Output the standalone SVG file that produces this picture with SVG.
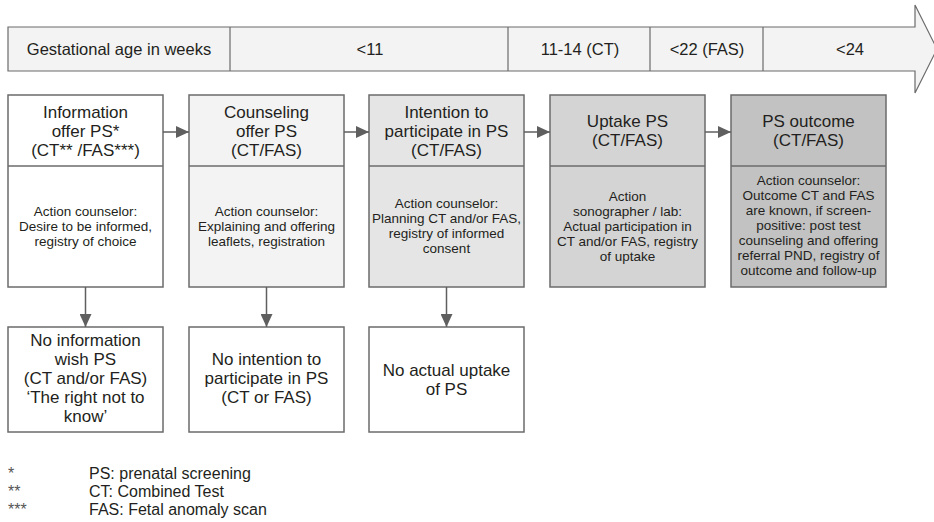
<svg xmlns="http://www.w3.org/2000/svg" width="934" height="522" viewBox="0 0 934 522">
<style>
text{font-family:"Liberation Sans",Arial,sans-serif;fill:#231f20;text-anchor:middle}
.band{font-size:16.5px}
.hd{font-size:17px}
.bd{font-size:13.5px}
.bt{font-size:17px}
.fn{font-size:16px;text-anchor:start}
.ast{fill:#555555}
.box{stroke:#6b6b6b;stroke-width:1.5}
.conn{stroke:#5f5f5f;stroke-width:1.5;fill:none}
</style>
<defs>
<marker id="ah" markerUnits="userSpaceOnUse" markerWidth="13" markerHeight="12" refX="13" refY="6" orient="auto">
<path d="M0,0 L13,6 L0,12 z" fill="#5f5f5f"/>
</marker>
</defs>
<g id="timeline">
<polygon points="8,27 915,27 915,5 937,49 915,93 915,71 8,71" fill="#f3f3f3" stroke="#6b6b6b" stroke-width="1.2"/>
<g stroke="#6b6b6b" stroke-width="1.2">
<line x1="230" y1="27" x2="230" y2="71"/>
<line x1="508" y1="27" x2="508" y2="71"/>
<line x1="650" y1="27" x2="650" y2="71"/>
<line x1="763" y1="27" x2="763" y2="71"/>
</g>
<text class="band" x="119" y="55">Gestational age in weeks</text>
<text class="band" x="370" y="55">&lt;11</text>
<text class="band" x="580" y="55">11-14 (CT)</text>
<text class="band" x="707" y="55">&lt;22 (FAS)</text>
<text class="band" x="850" y="55">&lt;24</text>
</g>
<g id="n1">
<rect class="box" x="8" y="95" width="155" height="192" fill="#ffffff"/>
<line class="box" x1="8" y1="166" x2="163" y2="166"/>
<text class="hd" x="85.5" y="118">Information</text>
<text class="hd" x="85.5" y="137">offer PS*</text>
<text class="hd" x="85.5" y="156">(CT** /FAS***)</text>
<text class="bd" x="85.5" y="216">Action counselor:</text>
<text class="bd" x="85.5" y="231">Desire to be informed,</text>
<text class="bd" x="85.5" y="246">registry of choice</text>
</g>
<g id="n2">
<rect class="box" x="189" y="95" width="155" height="192" fill="#f3f3f3"/>
<line class="box" x1="189" y1="166" x2="344" y2="166"/>
<text class="hd" x="266.5" y="118">Counseling</text>
<text class="hd" x="266.5" y="137">offer PS</text>
<text class="hd" x="266.5" y="156">(CT/FAS)</text>
<text class="bd" x="266.5" y="216">Action counselor:</text>
<text class="bd" x="266.5" y="231">Explaining and offering</text>
<text class="bd" x="266.5" y="246">leaflets, registration</text>
</g>
<g id="n3">
<rect class="box" x="369" y="95" width="155" height="192" fill="#e5e5e5"/>
<line class="box" x1="369" y1="166" x2="524" y2="166"/>
<text class="hd" x="446.5" y="118">Intention to</text>
<text class="hd" x="446.5" y="137">participate in PS</text>
<text class="hd" x="446.5" y="156">(CT/FAS)</text>
<text class="bd" x="446.5" y="208">Action counselor:</text>
<text class="bd" x="446.5" y="223">Planning CT and/or FAS,</text>
<text class="bd" x="446.5" y="238">registry of informed</text>
<text class="bd" x="446.5" y="253">consent</text>
</g>
<g id="n4">
<rect class="box" x="550" y="95" width="155" height="192" fill="#d4d4d4"/>
<line class="box" x1="550" y1="166" x2="705" y2="166"/>
<text class="hd" x="627.5" y="126.5">Uptake PS</text>
<text class="hd" x="627.5" y="145.5">(CT/FAS)</text>
<text class="bd" x="627.5" y="201">Action</text>
<text class="bd" x="627.5" y="216">sonographer / lab:</text>
<text class="bd" x="627.5" y="231">Actual participation in</text>
<text class="bd" x="627.5" y="246">CT and/or FAS, registry</text>
<text class="bd" x="627.5" y="261">of uptake</text>
</g>
<g id="n5">
<rect class="box" x="731" y="95" width="155" height="192" fill="#c2c2c2"/>
<line class="box" x1="731" y1="166" x2="886" y2="166"/>
<text class="hd" x="808.5" y="126.5">PS outcome</text>
<text class="hd" x="808.5" y="145.5">(CT/FAS)</text>
<text class="bd" x="808.5" y="185">Action counselor:</text>
<text class="bd" x="808.5" y="200">Outcome CT and FAS</text>
<text class="bd" x="808.5" y="215">are known, if screen-</text>
<text class="bd" x="808.5" y="230">positive: post test</text>
<text class="bd" x="808.5" y="245">counseling and offering</text>
<text class="bd" x="808.5" y="260">referral PND, registry of</text>
<text class="bd" x="808.5" y="275">outcome and follow-up</text>
</g>
<g id="b1">
<rect class="box" x="8" y="327" width="155" height="105" fill="#ffffff"/>
<text class="bt" x="85.5" y="345.5">No information</text>
<text class="bt" x="85.5" y="364.5">wish PS</text>
<text class="bt" x="85.5" y="383.5">(CT and/or FAS)</text>
<text class="bt" x="85.5" y="402.5">‘The right not to</text>
<text class="bt" x="85.5" y="421.5">know’</text>
</g>
<g id="b2">
<rect class="box" x="189" y="327" width="155" height="105" fill="#ffffff"/>
<text class="bt" x="266.5" y="364.5">No intention to</text>
<text class="bt" x="266.5" y="383.5">participate in PS</text>
<text class="bt" x="266.5" y="402.5">(CT or FAS)</text>
</g>
<g id="b3">
<rect class="box" x="369" y="327" width="155" height="105" fill="#ffffff"/>
<text class="bt" x="446.5" y="376">No actual uptake</text>
<text class="bt" x="446.5" y="395">of PS</text>
</g>
<g id="connectors">
<line class="conn" x1="163" y1="132" x2="189" y2="132" marker-end="url(#ah)"/>
<line class="conn" x1="344" y1="132" x2="369" y2="132" marker-end="url(#ah)"/>
<line class="conn" x1="524" y1="132" x2="550" y2="132" marker-end="url(#ah)"/>
<line class="conn" x1="705" y1="132" x2="731" y2="132" marker-end="url(#ah)"/>
<line class="conn" x1="85.5" y1="287" x2="85.5" y2="327" marker-end="url(#ah)"/>
<line class="conn" x1="266.5" y1="287" x2="266.5" y2="327" marker-end="url(#ah)"/>
<line class="conn" x1="446.5" y1="287" x2="446.5" y2="327" marker-end="url(#ah)"/>
</g>
<g id="footnotes">
<text class="fn ast" x="8" y="479">*</text>
<text class="fn ast" x="8" y="497">**</text>
<text class="fn ast" x="8" y="515">***</text>
<text class="fn" x="89" y="479">PS: prenatal screening</text>
<text class="fn" x="89" y="497">CT: Combined Test</text>
<text class="fn" x="89" y="515">FAS: Fetal anomaly scan</text>
</g>
</svg>
